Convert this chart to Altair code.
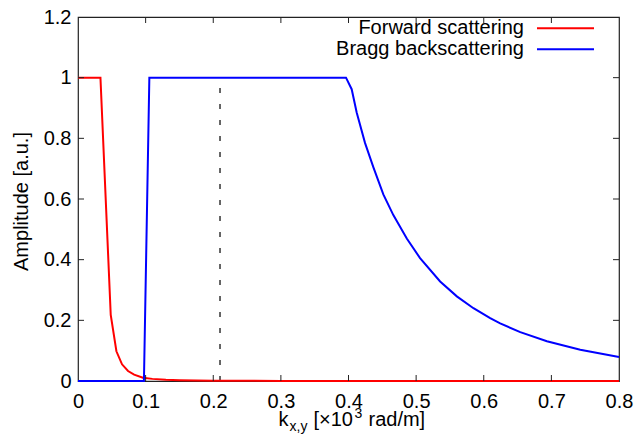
import altair as alt
import pandas as pd

# ---- data ----
series_names = ["Forward scattering", "Bragg backscattering"]
series_colors = ["#ff0000", "#0000ff"]

fwd_k = [0, 0.0332, 0.0484, 0.0568, 0.0651, 0.074, 0.083, 0.096, 0.11, 0.13,
         0.15, 0.2, 0.3, 0.4, 0.5, 0.6, 0.7, 0.8]
fwd_a = [1, 1, 0.218, 0.098, 0.055, 0.033, 0.021, 0.011, 0.007, 0.004,
         0.0025, 0.001, 0.0004, 0.0002, 0.0001, 0.0001, 0.0001, 0.0001]

bragg_k = [0, 0.0975, 0.1055, 0.3963, 0.4047, 0.4121, 0.4244, 0.4367, 0.4515,
           0.4663, 0.4862, 0.5058, 0.5355, 0.5602, 0.5848, 0.6095, 0.6243,
           0.654, 0.6934, 0.7427, 0.8]
bragg_a = [0, 0, 1, 1, 0.962, 0.885, 0.785, 0.705, 0.615, 0.547, 0.470, 0.405,
           0.328, 0.279, 0.240, 0.207, 0.190, 0.161, 0.131, 0.103, 0.079]

dash_k = [0.21]
dash_lo = [0]
dash_hi = [1]

x_ticks = [0, 0.1, 0.2, 0.3, 0.4, 0.5, 0.6, 0.7, 0.8]
y_ticks = [0, 0.2, 0.4, 0.6, 0.8, 1.0, 1.2]
x_inner_ticks = [0.1, 0.2, 0.3, 0.4, 0.5, 0.6, 0.7]
y_inner_ticks = [0.2, 0.4, 0.6, 0.8, 1.0]

y_title = "Amplitude [a.u.]"
x_title_parts = ["k", "x,y", "[×10", "3", "rad/m]"]

# ---- layout ----
TOP = 9
W, H = 541, 369 - (TOP - 4)
FONT = "Liberation Sans"
TICK = 6

lines_df = pd.DataFrame({
    "k": fwd_k + bragg_k,
    "a": fwd_a + bragg_a,
    "series": [series_names[0]] * len(fwd_k) + [series_names[1]] * len(bragg_k),
})

xscale = alt.Scale(domain=[0, 0.8], nice=False, zero=False)
yscale = alt.Scale(domain=[0, 1.2], nice=False, zero=False)

x_axis = alt.Axis(values=x_ticks, format="~g", ticks=False, tickSize=0, domain=False,
                  grid=False, labelFontSize=20, labelFont=FONT, labelColor="black",
                  labelPadding=10, labelFlush=False, labelOverlap=False, title="")
y_axis = alt.Axis(values=y_ticks, format="~g", ticks=False, tickSize=0, domain=False,
                  grid=False, labelFontSize=20, labelFont=FONT, labelColor="black",
                  labelPadding=7, labelFlush=False, labelOverlap=False, title="")


def X(field="k"):
    return alt.X(f"{field}:Q", scale=xscale, axis=x_axis)


def Y(field="a"):
    return alt.Y(f"{field}:Q", scale=yscale, axis=y_axis)


lines = alt.Chart(lines_df).mark_line(strokeWidth=2).encode(
    x=X(), y=Y(),
    color=alt.Color("series:N", scale=alt.Scale(domain=series_names, range=series_colors),
                    legend=None),
    detail="series:N",
)

dash_df = pd.DataFrame({"k": dash_k, "a": dash_lo, "a2": dash_hi})
dashed = alt.Chart(dash_df).mark_rule(strokeDash=[5, 11], color="#333333",
                                      strokeWidth=1.5).encode(
    x=X(), y=Y(), y2="a2:Q")

xt_df = pd.DataFrame({"k": x_inner_ticks})
yt_df = pd.DataFrame({"a": y_inner_ticks})
tick_style = dict(color="#222222", strokeWidth=1)
xt_bottom = alt.Chart(xt_df).mark_rule(**tick_style).encode(
    x=X(), y=alt.value(H), y2=alt.value(H - TICK))
xt_top = alt.Chart(xt_df).mark_rule(**tick_style).encode(
    x=X(), y=alt.value(0), y2=alt.value(TICK))
yt_left = alt.Chart(yt_df).mark_rule(**tick_style).encode(
    y=Y(), x=alt.value(0), x2=alt.value(TICK))
yt_right = alt.Chart(yt_df).mark_rule(**tick_style).encode(
    y=Y(), x=alt.value(W), x2=alt.value(W - TICK))

# legend (gnuplot style: text right-aligned, sample line to the right)
leg_y = [28.3 - 8 - TOP, 49.3 - 8 - TOP]
leg_layers = []
for i, name in enumerate(series_names):
    d = pd.DataFrame({"label": [name]})
    leg_layers.append(alt.Chart(d).mark_text(
        align="right", baseline="middle", font=FONT, fontSize=20, color="black"
    ).encode(text="label:N", x=alt.value(446), y=alt.value(leg_y[i])))
    leg_layers.append(alt.Chart(d).mark_rule(color=series_colors[i], strokeWidth=2).encode(
        x=alt.value(459), x2=alt.value(516), y=alt.value(leg_y[i])))

# y title
yt_df2 = pd.DataFrame({"t": [y_title]})
ytitle = alt.Chart(yt_df2).mark_text(
    angle=270, align="center", baseline="alphabetic", font=FONT, fontSize=20, color="black"
).encode(text="t:N", x=alt.value(-50), y=alt.value(H / 2 + (TOP - 4) / 2))

# x title composed of pieces (subscript and superscript)
sizes = [20, 14, 20, 14, 20]
dys = [0, 5, 0, -8, 0]
offsets = [0, 11, 35, 76, 90]
total_w = 147
x0 = 274 - total_w / 2
base_y = 426 - 8 - TOP
xtitle_layers = []
for part, sz, dy, off in zip(x_title_parts, sizes, dys, offsets):
    d = pd.DataFrame({"t": [part]})
    xtitle_layers.append(alt.Chart(d).mark_text(
        align="left", baseline="alphabetic", font=FONT, fontSize=sz, color="black"
    ).encode(text="t:N", x=alt.value(x0 + off), y=alt.value(base_y + dy)))

chart = alt.layer(
    dashed, lines, xt_bottom, xt_top, yt_left, yt_right, ytitle,
    *leg_layers, *xtitle_layers
).properties(
    width=W, height=H, autosize="none",
    padding={"left": 70, "top": TOP, "right": 17, "bottom": 56},
).configure_view(stroke="#222222", strokeWidth=1.2)

chart.save("out.html", embed_options={"renderer": "svg", "actions": False})
